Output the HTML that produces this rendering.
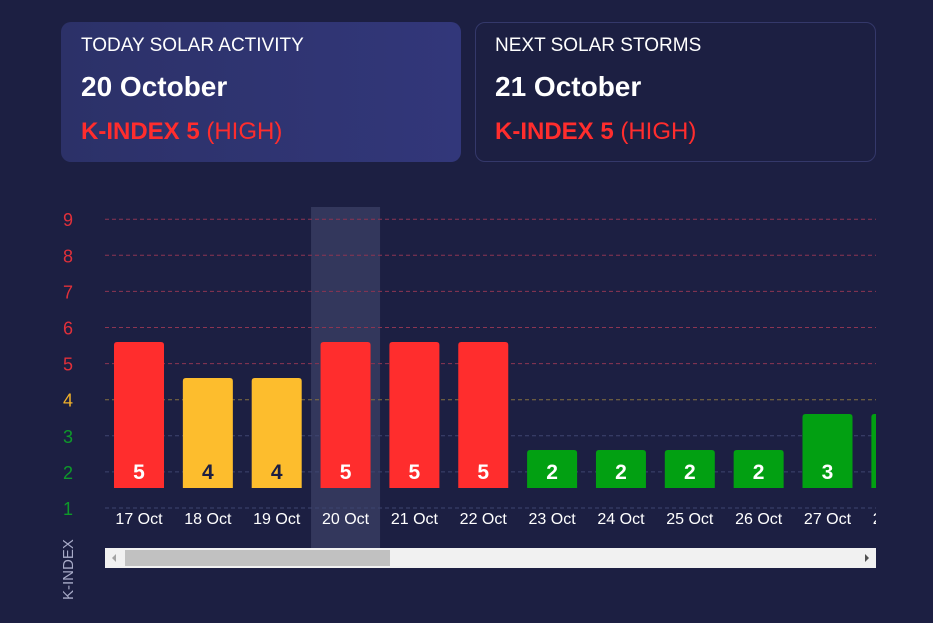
<!DOCTYPE html>
<html><head><meta charset="utf-8"><style>
body{margin:0;width:933px;height:623px;background:#1c1f42;font-family:"Liberation Sans",sans-serif;overflow:hidden;position:relative}
.card{position:absolute;top:22px;width:400px;height:140px;border-radius:10px;box-sizing:border-box;color:#fff}
.t{position:absolute;left:20px;top:13px;font-size:19px}
.d{position:absolute;left:20px;top:49px;font-size:28px;font-weight:bold}
.k{position:absolute;left:20px;top:96px;font-size:24px;color:#ff2d2d}
</style></head><body>
<div class="card" style="left:61px;background:linear-gradient(90deg,#2c3168,#32377a)">
<div class="t">TODAY SOLAR ACTIVITY</div>
<div class="d">20 October</div>
<div class="k"><b>K-INDEX 5</b> (HIGH)</div></div>
<div class="card" style="left:475px;width:401px;border:1px solid #34386a">
<div class="t" style="left:19px;top:12px">NEXT SOLAR STORMS</div>
<div class="d" style="left:19px;top:48px">21 October</div>
<div class="k" style="left:19px;top:95px"><b>K-INDEX 5</b> (HIGH)</div></div>
<svg id="c" width="933" height="623" style="position:absolute;left:0;top:0"></svg>
<script>
const categories=["17 Oct","18 Oct","19 Oct","20 Oct","21 Oct","22 Oct","23 Oct","24 Oct","25 Oct","26 Oct","27 Oct","28 Oct"];
const values=[5,4,4,5,5,5,2,2,2,2,3,3];
const ticks=[1,2,3,4,5,6,7,8,9];
const highlightIndex=3;
const NS="http://www.w3.org/2000/svg";
const svg=document.getElementById('c');
function mk(t,a,p){const e=document.createElementNS(NS,t);for(const k in a)e.setAttribute(k,a[k]);(p||svg).appendChild(e);return e;}
function color(v){return v>=5?'#ff2d2d':v==4?'#fdbd2d':'#02a012';}
function gy(k){return 508-(k-1)*36.1;}
function barTop(v){return 522-36*v;}
const base=488;
function bx(i){return 114+i*68.85;}
const clip=mk('clipPath',{id:'cl'});mk('rect',{x:105,y:200,width:771,height:340},clip);
const hl=mk('rect',{x:bx(highlightIndex)-9.5,y:207,width:69,height:341,fill:'#33375c'});


ticks.forEach(k=>{
const l=mk('line',{x1:105,x2:876,y1:gy(k),y2:gy(k),stroke:k>=5?'#8c3552':k==4?'#857040':'#3e4570','stroke-dasharray':'4 3','stroke-width':1});


const t=mk('text',{x:68,y:gy(k)+7,'text-anchor':'middle','font-size':18,fill:k>=5?'#e0303a':k==4?'#f0b02a':'#0e9a2a'});t.textContent=k;


});
const g=mk('g',{'clip-path':'url(#cl)'});
categories.forEach((c,i)=>{
const v=values[i],x=bx(i);
const r=mk('path',{d:`M${x},${base}V${barTop(v)+3}q0,-3 3,-3h44q3,0 3,3V${base}Z`,fill:color(v)},g);


const vt=mk('text',{x:x+25,y:479,'text-anchor':'middle','font-size':21,'font-weight':'bold',fill:v==4?'#1c1f42':'#fff'},g);vt.textContent=v;


const lt=mk('text',{x:x+25,y:524,'text-anchor':'middle','font-size':16,fill:'#fff'},g);lt.textContent=c;


});
const yt=mk('text',{x:0,y:0,transform:'translate(73,600) rotate(-90)','font-size':15,fill:'#a8abc8'});yt.textContent='K-INDEX';


const sb=mk('rect',{x:105,y:548,width:771,height:20,fill:'#f1f1f1'});


const th=mk('rect',{x:125,y:550,width:265,height:16,fill:'#c1c1c1'});


const la=mk('path',{d:'M112,558l4,-4v8z',fill:'#a3a3a3'});


const ra=mk('path',{d:'M869,558l-4,-4v8z',fill:'#505050'});


</script>
</body></html>
